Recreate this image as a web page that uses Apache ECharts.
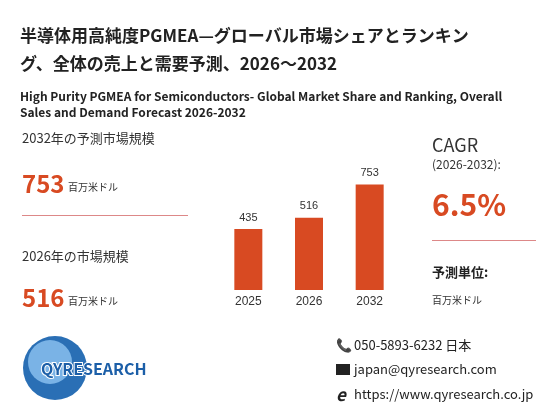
<!DOCTYPE html>
<html><head><meta charset="utf-8">
<script src="https://cdn.jsdelivr.net/npm/echarts@6/dist/echarts.min.js"></script>
<style>html,body{margin:0;padding:0;background:#fff}#c{width:560px;height:420px}</style>
</head><body><div id="c"></div>
<script>
const categories = ['2025', '2026', '2032'];
const values = [435, 516, 753];
const red = '#d84a22';
const font = '"Noto Sans CJK JP","Noto Sans",sans-serif';
const chart = echarts.init(document.getElementById('c'));
function t(x, y, text, size, opts) {
  return Object.assign({type:'text', left:x, top:y, style:Object.assign({text, fontSize:size, fontFamily:font, fill:'#222'}, opts||{})});
}
chart.setOption({
  animation:false,
  grid:{left:218, right:160, top:150, bottom:130},
  xAxis:{type:'category', data:categories, axisTick:{show:false},
    axisLine:{show:false}, axisLabel:{color:'#333', fontSize:12, margin:6}},
  yAxis:{type:'value', min:0, max:1000, show:false},
  series:[{type:'bar', data:values, barWidth:28, itemStyle:{color:red},
    label:{show:true, position:'top', color:'#333', fontSize:11, distance:6}}],
  graphic:[
    t(20, 27, '半導体用高純度PGMEA—グローバル市場シェアとランキン', 17, {fontWeight:'bold'}),
    t(20, 55, 'グ、全体の売上と需要予測、2026～2032', 17, {fontWeight:'bold'}),
    t(20, 90, 'High Purity PGMEA for Semiconductors- Global Market Share and Ranking, Overall', 12, {fontWeight:'bold'}),
    t(20, 106, 'Sales and Demand Forecast 2026-2032', 12, {fontWeight:'bold'}),
    t(22, 132, '2032年の予測市場規模', 13, {fill:'#333'}),
    t(22, 172, '753', 24, {fill:red, fontWeight:'bold'}),
    t(68, 182, '百万米ドル', 10, {fill:'#333'}),
    {type:'rect', shape:{x:22, y:215, width:166, height:1}, style:{fill:'#d88'}},
    t(22, 250, '2026年の市場規模', 13, {fill:'#333'}),
    t(22, 286, '516', 24, {fill:red, fontWeight:'bold'}),
    t(68, 296, '百万米ドル', 10, {fill:'#333'}),
    t(432, 136, 'CAGR', 18, {fill:'#333'}),
    t(432, 158, '(2026-2032):', 12, {fill:'#333'}),
    t(432, 190, '6.5%', 30, {fill:red, fontWeight:'bold'}),
    {type:'rect', shape:{x:432, y:240, width:104, height:1}, style:{fill:'#d88'}},
    t(432, 266, '予測単位:', 13, {fontWeight:'bold'}),
    t(432, 295, '百万米ドル', 10, {fill:'#333'}),
    {type:'circle', shape:{cx:55, cy:368, r:32}, style:{fill:'#2a6fb5'}},
    {type:'circle', shape:{cx:50, cy:362, r:22}, style:{fill:'#7ab3e6'}},
    t(40, 360, 'QYRESEARCH', 16, {fill:'#1c5fa8', fontWeight:'bold', stroke:'#fff', lineWidth:2}),
    t(336, 339, '📞', 13),
    t(354, 339, '050-5893-6232 日本', 13),
    {type:'rect', shape:{x:336, y:364, width:14, height:11}, style:{fill:'#222'}},
    t(354, 363, 'japan@qyresearch.com', 13),
    t(336, 386, 'e', 17, {fontWeight:'bold', fontStyle:'italic'}),
    t(354, 388, 'https://www.qyresearch.co.jp', 13)
  ]
});
</script></body></html>
